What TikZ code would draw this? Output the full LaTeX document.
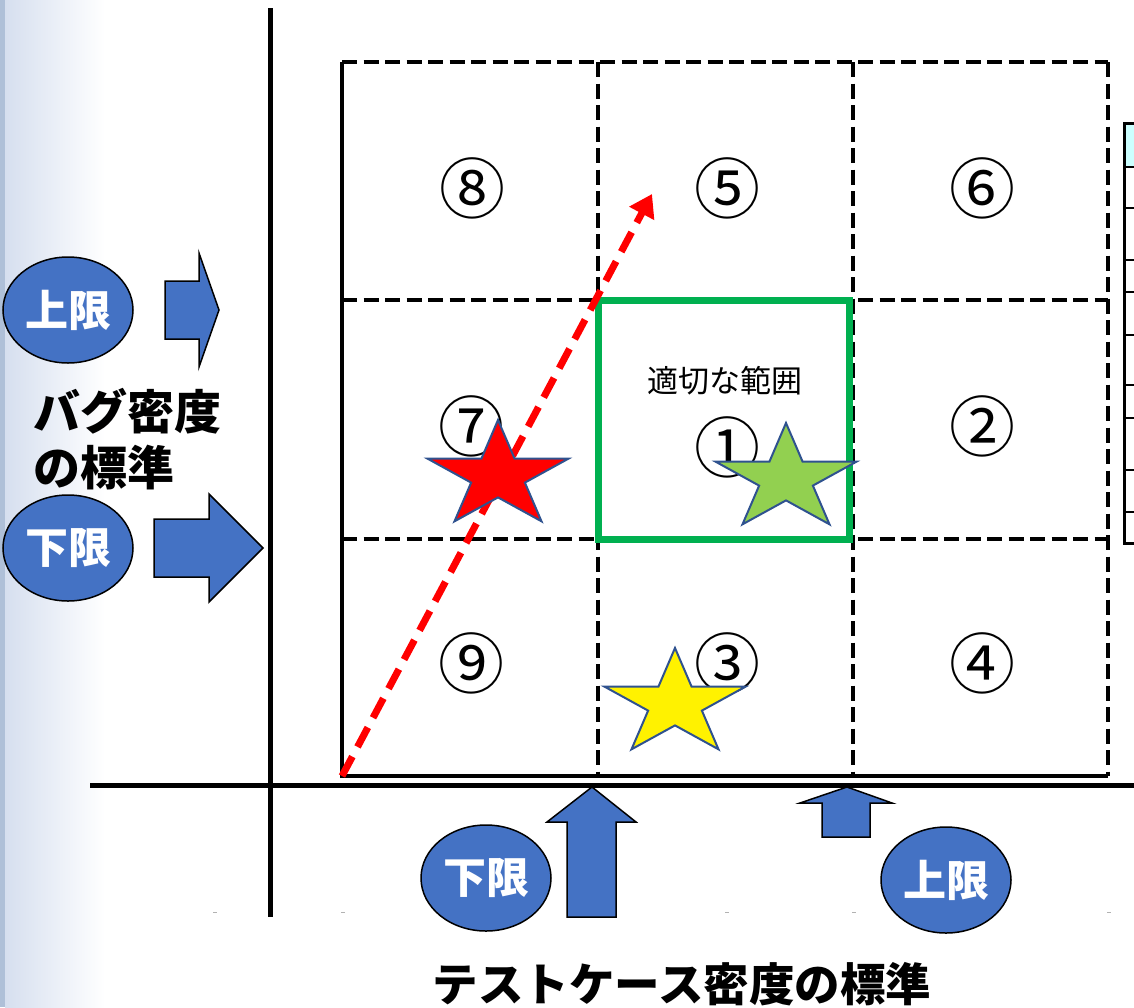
\documentclass[tikz,border=0pt]{standalone}
\usepackage{fontspec}
\usepackage{tikz}
\usetikzlibrary{shapes.geometric}
\usetikzlibrary{arrows.meta}

\newfontfamily\jp{Noto Sans CJK JP}
\definecolor{limitblue}{HTML}{4472C4}
\definecolor{starline}{HTML}{2F528F}
\definecolor{okgreen}{HTML}{00B050}
\definecolor{stargreen}{HTML}{92D050}
\definecolor{edgeband}{HTML}{AFC0D8}
\definecolor{edgefade}{HTML}{D6DFEF}
\definecolor{tabcyan}{HTML}{CCFFFF}

\begin{document}
\begin{tikzpicture}[x=1pt, y=-1pt,
	cellnum/.style={font=\jp\fontsize{66}{66}\selectfont, inner sep=0pt},
	limit/.style={ellipse, draw=black, line width=1.5pt, fill=limitblue, text=white,
		minimum width=130pt, minimum height=106pt, inner sep=0pt,
		font=\jp\bfseries\fontsize{43}{43}\selectfont},
	blockarrow/.style={draw=black, line width=1.5pt, fill=limitblue},
	cellline/.style={line width=3.5pt, dash pattern=on 15pt off 6.5pt},
	axisline/.style={line width=5pt}]
	\useasboundingbox (0,0) rectangle (1134,1007);

	% left band of the slide
	\fill[edgeband] (0,0) rectangle (5,1007);
	\shade[left color=edgefade, right color=white] (5,0) rectangle (105,1007);

	% axes
	\coordinate (xa) at (90,785);
	\coordinate (xb) at (1134,785);
	\coordinate (ya) at (270,8);
	\coordinate (yb) at (270,917);
	\draw[axisline] (xa) -- (xb);
	\draw[axisline] (ya) -- (yb);

	% the 3x3 grid
	\draw[line width=4pt] (342,62) -- (342,776) -- (1108,776);
	\draw[cellline] (342,62) -- (1108,62);
	\draw[cellline] (342,300) -- (1108,300);
	\draw[cellline] (342,539) -- (1108,539);
	\foreach \gx in {598,853,1108}
		\draw[cellline] (\gx,62) -- (\gx,776);

	\draw[okgreen, line width=7pt] (598,300) rectangle (849,539);
	\node[font=\jp\fontsize{31}{31}\selectfont] (ok) at (725,381) {適切な範囲};

	\node[cellnum] (c8) at (472,188) {⑧};
	\node[cellnum] (c5) at (727,188) {⑤};
	\node[cellnum] (c6) at (982,188) {⑥};
	\node[cellnum] (c7) at (471,426) {⑦};
	\node[cellnum] (c1) at (727,447) {①};
	\node[cellnum] (c2) at (982,426) {②};
	\node[cellnum] (c9) at (471,663) {⑨};
	\node[cellnum] (c3) at (727,663) {③};
	\node[cellnum] (c4) at (982,663) {④};

	% trend line
	\coordinate (ta) at (342,776);
	\coordinate (tb) at (652,194);
	\draw[red, line width=7pt, dash pattern=on 22pt off 11pt,
		-{Triangle[length=22pt, width=27pt]}] (ta) -- (tb);

	% stars
	\foreach \sx/\sy/\sc in {498/476/red, 786/479/stargreen, 675/704/yellow}
		\filldraw[fill=\sc, draw=starline, line width=2pt, shift={(\sx,\sy)}, x=74pt, y=56pt]
			(90:1) \foreach \k in {1,...,9} { -- ({90+36*\k}:{ifthenelse(mod(\k,2)==1,0.382,1)}) } -- cycle;

	% limits of the bug density
	\node[limit] (ubY) at (68,310) {上限};
	\node[limit] (lbY) at (68,548) {下限};
	\draw[blockarrow] (165,281) -- (199,281) -- (199,253) -- (219,310) -- (199,367) -- (199,339) -- (165,339) -- cycle;
	\draw[blockarrow] (154,519) -- (209,519) -- (209,494) -- (263,548) -- (209,602) -- (209,577) -- (154,577) -- cycle;
	\node[font=\jp\bfseries\fontsize{47}{56}\selectfont, align=left, anchor=north west, inner sep=0pt] (bugY) at (33,388) {バグ密度\\の標準};

	% limits of the test case density
	\node[limit] (lbX) at (486,878) {下限};
	\node[limit] (ubX) at (946,880) {上限};
	\draw[blockarrow] (592,787) -- (636,822) -- (616,822) -- (616,917) -- (567,917) -- (567,822) -- (547,822) -- cycle;
	\draw[blockarrow] (847,787) -- (892,803) -- (870,803) -- (870,837) -- (822,837) -- (822,803) -- (800,803) -- cycle;
	\node[font=\jp\bfseries\fontsize{45.5}{45.5}\selectfont] (testX) at (682,984) {テストケース密度の標準};

	% table at the right edge
	\fill[tabcyan] (1124,123) rectangle (1140,167);
	\foreach \ty in {167,208,260,292,335,385,418,470,512}
		\draw[line width=1.5pt] (1124,\ty) -- (1140,\ty);
	\draw[line width=3pt] (1140,123) -- (1124,123) -- (1124,543) -- (1140,543);

	\foreach \mx in {215,343,727,854,1109}
		\draw[gray!60, line width=1pt] (\mx-2,912) -- (\mx+2,912);
\end{tikzpicture}
\end{document}
